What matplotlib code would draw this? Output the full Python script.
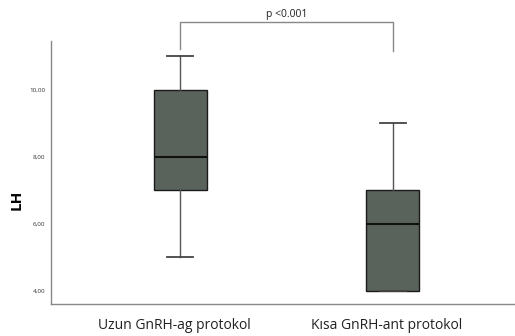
import matplotlib
matplotlib.use("Agg")
import matplotlib.pyplot as plt
import matplotlib.transforms as mtransforms

categories = ["Uzun GnRH-ag protokol", "Kısa GnRH-ant protokol"]
whislo = [5.0, 4.0]
q1 = [7.0, 4.0]
med = [8.0, 6.0]
q3 = [10.0, 7.0]
whishi = [11.0, 9.0]
yticks = [4, 6, 8, 10]
yticklabels = ["4,00", "6,00", "8,00", "10,00"]
p_text = "p <0.001"

plt.rcParams['font.family'] = ['Open Sans', 'DejaVu Sans']
fig = plt.figure(figsize=(5.15, 3.36), dpi=100)
ax = fig.add_axes([0.099, 0.095, 0.901, 0.783])

stats = []
for i in range(len(categories)):
    stats.append(dict(whislo=whislo[i], q1=q1[i], med=med[i], q3=q3[i],
                      whishi=whishi[i], fliers=[], label=categories[i]))
pos = [1, 2]
ax.bxp(stats, positions=pos, widths=0.249, patch_artist=True, showfliers=False,
       boxprops=dict(facecolor="#5a625c", edgecolor="#1a1a1a", linewidth=1.0),
       medianprops=dict(color="#111111", linewidth=1.5),
       whiskerprops=dict(color="#555555", linewidth=1.0),
       capprops=dict(color="#444444", linewidth=1.3),
       capwidths=0.122)

ax.set_xlim(0.394, 2.573)
ax.set_ylim(3.61, 11.46)
ax.set_yticks(yticks)
ax.set_yticklabels(yticklabels, fontsize=4.5, color="#333333")
ax.tick_params(axis='y', length=0, pad=4)
ax.tick_params(axis='x', length=0, pad=10)
ax.set_xticks(pos)
ax.set_xticklabels(categories, fontsize=10, color="#222222")
for lab in ax.get_xticklabels():
    lab.set_transform(lab.get_transform() + mtransforms.ScaledTranslation(-0.06, 0, fig.dpi_scale_trans))

for s in ["top", "right"]:
    ax.spines[s].set_visible(False)
for s in ["left", "bottom"]:
    ax.spines[s].set_color("#888888")
    ax.spines[s].set_linewidth(1.0)

ax.set_ylabel("LH", fontsize=11, fontweight="bold")
ax.yaxis.set_label_coords(-0.058, 0.395)

# significance bracket
ybar = 12.03
ax.plot([1, 1, 2, 2], [11.22, ybar, ybar, 11.16], color="#888888", linewidth=1.0,
        clip_on=False)
ax.text(1.5, ybar + 0.06, p_text, ha="center", va="bottom", fontsize=7.5,
        color="#222222")

fig.savefig("out.png", dpi=100)
